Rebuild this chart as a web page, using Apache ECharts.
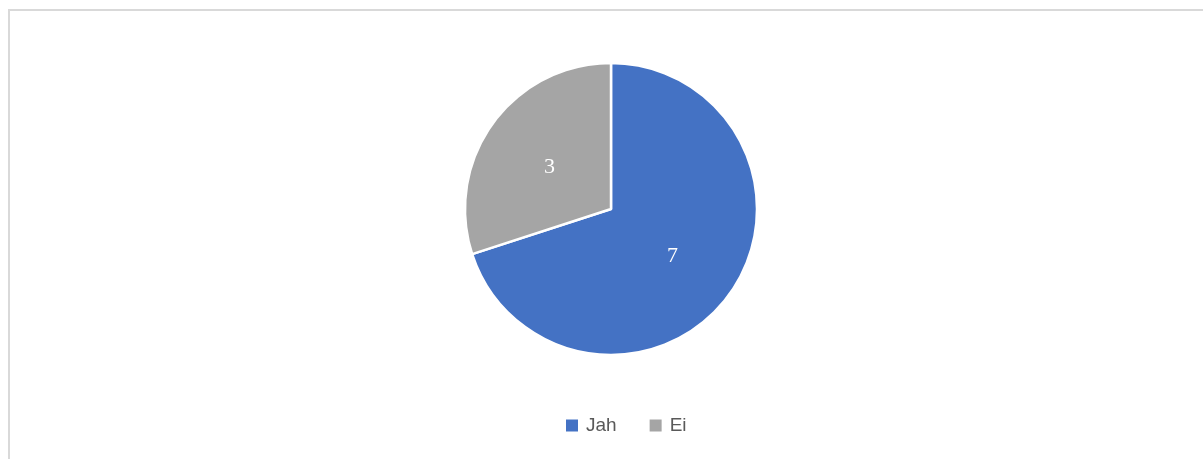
<!DOCTYPE html>
<html>
<head>
<meta charset="utf-8">
<script src="https://cdn.jsdelivr.net/npm/echarts@6/dist/echarts.min.js"></script>
<style>
  html, body { margin: 0; padding: 0; background: #ffffff; }
  #chart { width: 1203px; height: 459px; }
</style>
</head>
<body>
<div id="chart"></div>
<script>
// Answers and their counts
const categories = ['Jah', 'Ei'];
const counts = [7, 3];
const colors = ['#4472C4', '#A5A5A5'];

const chart = echarts.init(document.getElementById('chart'), null, { renderer: 'canvas' });

chart.setOption({
  animation: false,
  color: colors,
  graphic: [{
    type: 'rect',
    shape: { x: 9, y: 10, width: 1300, height: 600 },
    style: { fill: 'none', stroke: '#d9d9d9', lineWidth: 2 },
    silent: true
  }],
  legend: {
    data: categories,
    left: 566,
    top: 416,
    padding: 0,
    itemWidth: 12,
    itemHeight: 12,
    itemGap: 33,
    icon: 'rect',
    itemStyle: { borderWidth: 0 },
    textStyle: {
      fontFamily: 'Liberation Sans, Arial, sans-serif',
      fontSize: 19,
      color: '#595959',
      padding: [0, 0, 0, 3]
    }
  },
  series: [{
    type: 'pie',
    center: [611, 209],
    radius: [0, 146],
    startAngle: 90,
    clockwise: true,
    itemStyle: { borderColor: '#ffffff', borderWidth: 2.5 },
    label: {
      show: true,
      position: 'inside',
      formatter: '{c}',
      color: '#ffffff',
      fontFamily: 'Liberation Serif, Times New Roman, serif',
      fontSize: 22,
      offset: [0, 3]
    },
    labelLine: { show: false },
    emphasis: { disabled: true },
    data: categories.map((name, i) => ({ name, value: counts[i] }))
  }]
});
</script>
</body>
</html>
